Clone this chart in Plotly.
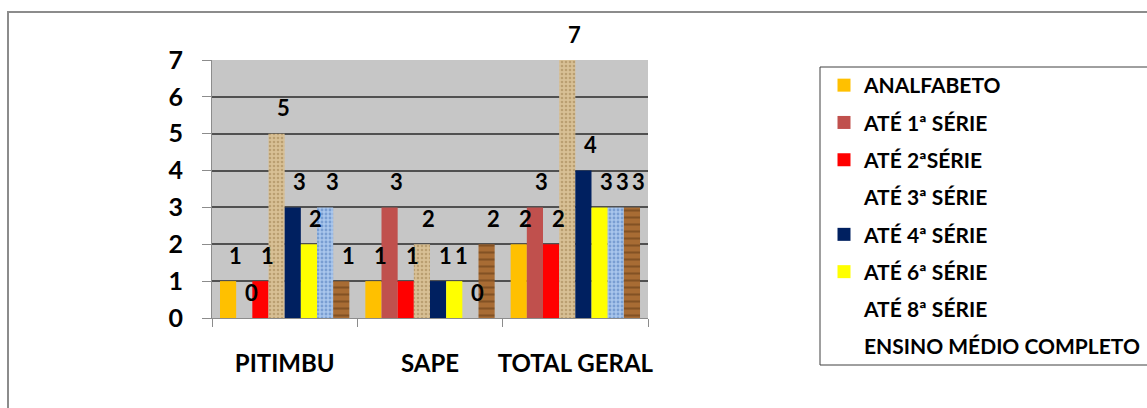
import plotly.graph_objects as go

categories = ["PITIMBU", "SAPE", "TOTAL GERAL"]
series_names = ["ANALFABETO", "ATÉ 1ª SÉRIE", "ATÉ 2ªSÉRIE", "ATÉ 3ª SÉRIE",
                "ATÉ 4ª SÉRIE", "ATÉ 6ª SÉRIE", "ATÉ 8ª SÉRIE", "ENSINO MÉDIO COMPLETO"]
analfabeto = [1, 1, 2]
ate_1 = [0, 3, 3]
ate_2 = [1, 1, 2]
ate_3 = [5, 2, 7]
ate_4 = [3, 1, 4]
ate_6 = [2, 1, 3]
ate_8 = [3, 0, 3]
ensino_medio = [1, 2, 3]
y_ticks = [0, 1, 2, 3, 4, 5, 6, 7]

values = [analfabeto, ate_1, ate_2, ate_3, ate_4, ate_6, ate_8, ensino_medio]
colors = ["#FFC000", "#C0504D", "#FF0000", "#D8C095", "#002060", "#FFFF00", "#8DB4E2", "#9A622E"]
patterns = [None, None, None,
            dict(shape=".", fgcolor="#9C7E4E", bgcolor="#D8C095", size=4, solidity=0.35),
            None, None,
            dict(shape=".", fgcolor="#4A76B8", bgcolor="#A9C6EC", size=4, solidity=0.4),
            dict(shape="-", fgcolor="#5E3714", bgcolor="#A86C34", size=7, solidity=0.3)]
has_swatch = [True, True, True, False, True, True, False, False]

FONT = "Lato"
W, H = 1147, 408
L, R, T, B = 212, 1147 - 648, 60, 408 - 318
pw, ph = W - L - R, H - T - B

def px(x):
    return (x - L) / pw

def py(y):
    return (H - B - y) / ph

fig = go.Figure()
bargap = 0.11
n = len(values)
for i, (name, vals) in enumerate(zip(series_names, values)):
    marker = dict(color=colors[i], line=dict(width=0))
    if patterns[i]:
        marker["pattern"] = patterns[i]
    fig.add_trace(go.Bar(name=name, x=categories, y=vals, marker=marker,
                         showlegend=False, hoverinfo="x+y+name"))

for i, name in enumerate(series_names):
    fig.add_trace(go.Scatter(
        x=[None], y=[None], name=name, mode="markers",
        marker=dict(symbol="square", size=13,
                    color=colors[i] if has_swatch[i] else "rgba(0,0,0,0)"),
        legendgroup=f"g{i}", showlegend=True))

w = (1 - bargap) / n
for i, vals in enumerate(values):
    for j, v in enumerate(vals):
        fig.add_annotation(x=j + (i - (n - 1) / 2) * w, y=v, text=str(v),
                           showarrow=False, xshift=7, yshift=26,
                           font=dict(family=FONT, size=22, color="black", weight="bold"))

fig.add_shape(type="rect", xref="paper", yref="paper",
              x0=px(8), x1=px(1160), y0=py(420), y1=py(12),
              line=dict(color="#8C8C8C", width=2), layer="below")
fig.add_shape(type="rect", xref="paper", yref="paper",
              x0=px(820), x1=px(1160), y0=py(365), y1=py(67),
              line=dict(color="#404040", width=1), layer="below")

fig.update_layout(
    width=W, height=H,
    margin=dict(l=L, r=R, t=T, b=B, pad=0, autoexpand=False),
    paper_bgcolor="white", plot_bgcolor="#C6C6C6",
    barmode="group", bargap=bargap, bargroupgap=0,
    font=dict(family=FONT, color="black"),
    legend=dict(xref="container", yref="container",
                x=824 / W, y=1 - 65 / H, xanchor="left", yanchor="top",
                font=dict(family=FONT, size=21, color="black", weight="bold"),
                bgcolor="rgba(0,0,0,0)", tracegroupgap=7, itemwidth=30,
                maxheight=340),
    xaxis=dict(type="category", showline=True, linecolor="#8C8C8C", linewidth=1,
               ticks="outside", tickson="boundaries", ticklen=8, tickcolor="#8C8C8C",
               tickangle=0, automargin=False,
               tickfont=dict(family=FONT, size=24, color="black", weight="bold"),
               ticklabelstandoff=24, showgrid=False),
    yaxis=dict(range=[0, 7], tickvals=y_ticks, showline=True, linecolor="#8C8C8C",
               ticks="outside", ticklen=9, tickcolor="#8C8C8C", automargin=False,
               tickfont=dict(family=FONT, size=25, color="black", weight="bold"),
               ticklabelstandoff=14, showgrid=True, gridcolor="#505050", gridwidth=2,
               zeroline=False),
)

fig.write_html("out.html")
